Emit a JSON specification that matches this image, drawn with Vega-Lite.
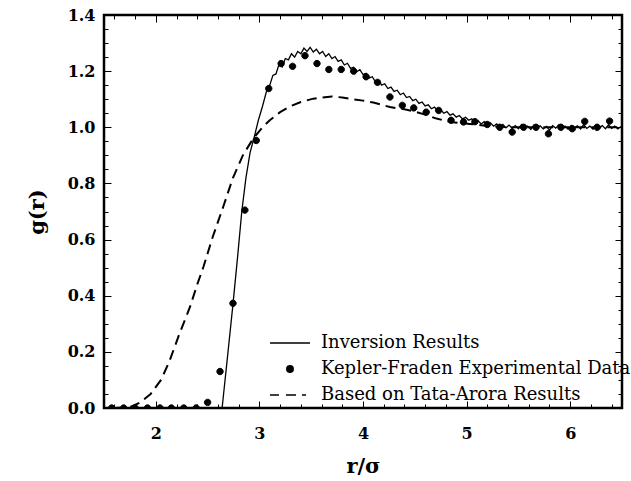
{
  "$schema": "https://vega.github.io/schema/vega-lite/v6.json",
  "width": 518,
  "height": 393,
  "autosize": {"type": "none"},
  "padding": {"left": 104, "top": 15, "right": 9, "bottom": 73},
  "background": "white",
  "datasets": {
    "inv": [
      {"r": 2.64, "g": 0}, {"r": 2.70, "g": 0.21}, {"r": 2.745, "g": 0.37}, {"r": 2.79, "g": 0.54}, {"r": 2.83, "g": 0.70},
      {"r": 2.87, "g": 0.82}, {"r": 2.91, "g": 0.91}, {"r": 2.95, "g": 0.965}, {"r": 2.99, "g": 1.025}, {"r": 3.03, "g": 1.075},
      {"r": 3.07, "g": 1.13}, {"r": 3.10, "g": 1.15}, {"r": 3.13, "g": 1.185}, {"r": 3.16, "g": 1.19}, {"r": 3.19, "g": 1.225},
      {"r": 3.22, "g": 1.215}, {"r": 3.25, "g": 1.245}, {"r": 3.28, "g": 1.24}, {"r": 3.31, "g": 1.262}, {"r": 3.34, "g": 1.25},
      {"r": 3.37, "g": 1.27}, {"r": 3.40, "g": 1.262}, {"r": 3.43, "g": 1.282}, {"r": 3.46, "g": 1.27}, {"r": 3.49, "g": 1.285},
      {"r": 3.52, "g": 1.268}, {"r": 3.55, "g": 1.278}, {"r": 3.58, "g": 1.262}, {"r": 3.61, "g": 1.27}, {"r": 3.64, "g": 1.252},
      {"r": 3.67, "g": 1.262}, {"r": 3.70, "g": 1.245}, {"r": 3.73, "g": 1.252}, {"r": 3.76, "g": 1.235}, {"r": 3.79, "g": 1.24},
      {"r": 3.82, "g": 1.222}, {"r": 3.85, "g": 1.228}, {"r": 3.88, "g": 1.21}, {"r": 3.91, "g": 1.214}, {"r": 3.94, "g": 1.198},
      {"r": 3.97, "g": 1.205}, {"r": 4.00, "g": 1.188}, {"r": 4.03, "g": 1.192}, {"r": 4.06, "g": 1.176}, {"r": 4.09, "g": 1.18},
      {"r": 4.12, "g": 1.162}, {"r": 4.15, "g": 1.168}, {"r": 4.18, "g": 1.15}, {"r": 4.21, "g": 1.155}, {"r": 4.24, "g": 1.138},
      {"r": 4.27, "g": 1.143}, {"r": 4.30, "g": 1.128}, {"r": 4.33, "g": 1.132}, {"r": 4.36, "g": 1.116}, {"r": 4.39, "g": 1.122},
      {"r": 4.42, "g": 1.106}, {"r": 4.45, "g": 1.11}, {"r": 4.48, "g": 1.095}, {"r": 4.51, "g": 1.1}, {"r": 4.54, "g": 1.085},
      {"r": 4.57, "g": 1.09}, {"r": 4.60, "g": 1.076}, {"r": 4.63, "g": 1.08}, {"r": 4.66, "g": 1.066}, {"r": 4.69, "g": 1.072},
      {"r": 4.72, "g": 1.058}, {"r": 4.75, "g": 1.062}, {"r": 4.78, "g": 1.05}, {"r": 4.81, "g": 1.056}, {"r": 4.84, "g": 1.043},
      {"r": 4.87, "g": 1.048}, {"r": 4.90, "g": 1.036}, {"r": 4.93, "g": 1.042}, {"r": 4.96, "g": 1.03}, {"r": 4.99, "g": 1.036},
      {"r": 5.02, "g": 1.025}, {"r": 5.05, "g": 1.03}, {"r": 5.08, "g": 1.018}, {"r": 5.11, "g": 1.024}, {"r": 5.14, "g": 1.012},
      {"r": 5.17, "g": 1.02}, {"r": 5.20, "g": 1.008}, {"r": 5.23, "g": 1.016}, {"r": 5.26, "g": 1.004}, {"r": 5.29, "g": 1.012},
      {"r": 5.32, "g": 1.0}, {"r": 5.35, "g": 1.01}, {"r": 5.38, "g": 0.998}, {"r": 5.41, "g": 1.008}, {"r": 5.44, "g": 0.996},
      {"r": 5.47, "g": 1.006}, {"r": 5.50, "g": 0.995}, {"r": 5.53, "g": 1.01}, {"r": 5.56, "g": 0.997}, {"r": 5.59, "g": 1.004},
      {"r": 5.62, "g": 0.992}, {"r": 5.65, "g": 1.008}, {"r": 5.68, "g": 0.998}, {"r": 5.71, "g": 1.005}, {"r": 5.74, "g": 0.994},
      {"r": 5.77, "g": 1.003}, {"r": 5.80, "g": 0.99}, {"r": 5.83, "g": 1.006}, {"r": 5.86, "g": 0.997}, {"r": 5.89, "g": 1.009},
      {"r": 5.92, "g": 0.995}, {"r": 5.95, "g": 1.004}, {"r": 5.98, "g": 0.993}, {"r": 6.01, "g": 1.007}, {"r": 6.04, "g": 0.998},
      {"r": 6.07, "g": 1.005}, {"r": 6.10, "g": 0.994}, {"r": 6.13, "g": 1.01}, {"r": 6.16, "g": 0.996}, {"r": 6.19, "g": 1.004},
      {"r": 6.22, "g": 0.993}, {"r": 6.25, "g": 1.008}, {"r": 6.28, "g": 0.997}, {"r": 6.31, "g": 1.006}, {"r": 6.34, "g": 0.995},
      {"r": 6.37, "g": 1.009}, {"r": 6.40, "g": 0.996}, {"r": 6.43, "g": 1.004}, {"r": 6.46, "g": 0.994}, {"r": 6.49, "g": 1.002},
      {"r": 6.50, "g": 0.998}
    ],
    "tata": [
      {"r": 1.60, "g": 0}, {"r": 1.75, "g": 0.003}, {"r": 1.85, "g": 0.02}, {"r": 1.95, "g": 0.05}, {"r": 2.05, "g": 0.10},
      {"r": 2.13, "g": 0.165}, {"r": 2.23, "g": 0.266}, {"r": 2.33, "g": 0.36}, {"r": 2.40, "g": 0.44}, {"r": 2.46, "g": 0.503},
      {"r": 2.55, "g": 0.61}, {"r": 2.65, "g": 0.716}, {"r": 2.745, "g": 0.82}, {"r": 2.84, "g": 0.90}, {"r": 2.94, "g": 0.96},
      {"r": 3.03, "g": 1.0}, {"r": 3.10, "g": 1.025}, {"r": 3.20, "g": 1.054}, {"r": 3.30, "g": 1.075}, {"r": 3.40, "g": 1.09},
      {"r": 3.52, "g": 1.102}, {"r": 3.60, "g": 1.106}, {"r": 3.70, "g": 1.11}, {"r": 3.80, "g": 1.106}, {"r": 3.90, "g": 1.10},
      {"r": 4.00, "g": 1.095}, {"r": 4.10, "g": 1.088}, {"r": 4.26, "g": 1.072}, {"r": 4.40, "g": 1.064}, {"r": 4.48, "g": 1.058},
      {"r": 4.60, "g": 1.045}, {"r": 4.71, "g": 1.031}, {"r": 4.84, "g": 1.019}, {"r": 5.03, "g": 1.012}, {"r": 5.20, "g": 1.005},
      {"r": 5.40, "g": 1.0}, {"r": 5.60, "g": 1.0}, {"r": 5.80, "g": 1.0}, {"r": 6.00, "g": 1.0}, {"r": 6.20, "g": 1.0},
      {"r": 6.50, "g": 1.0}
    ],
    "kep": [
      {"r": 1.574, "g": 0.0}, {"r": 1.69, "g": 0.0}, {"r": 1.80, "g": 0.0}, {"r": 1.92, "g": 0.0}, {"r": 2.04, "g": 0.0},
      {"r": 2.15, "g": 0.0}, {"r": 2.27, "g": 0.0}, {"r": 2.39, "g": 0.0}, {"r": 2.50, "g": 0.02}, {"r": 2.62, "g": 0.13},
      {"r": 2.745, "g": 0.373}, {"r": 2.86, "g": 0.705}, {"r": 2.97, "g": 0.953}, {"r": 3.09, "g": 1.138}, {"r": 3.21, "g": 1.227},
      {"r": 3.32, "g": 1.217}, {"r": 3.44, "g": 1.255}, {"r": 3.556, "g": 1.227}, {"r": 3.67, "g": 1.206}, {"r": 3.79, "g": 1.206},
      {"r": 3.91, "g": 1.2}, {"r": 4.03, "g": 1.18}, {"r": 4.14, "g": 1.16}, {"r": 4.26, "g": 1.108}, {"r": 4.38, "g": 1.078},
      {"r": 4.49, "g": 1.069}, {"r": 4.61, "g": 1.054}, {"r": 4.73, "g": 1.06}, {"r": 4.85, "g": 1.025}, {"r": 4.97, "g": 1.019},
      {"r": 5.08, "g": 1.02}, {"r": 5.20, "g": 1.01}, {"r": 5.32, "g": 1.0}, {"r": 5.44, "g": 0.983}, {"r": 5.55, "g": 1.0},
      {"r": 5.67, "g": 1.0}, {"r": 5.79, "g": 0.977}, {"r": 5.91, "g": 1.0}, {"r": 6.02, "g": 0.995}, {"r": 6.14, "g": 1.021},
      {"r": 6.26, "g": 1.0}, {"r": 6.38, "g": 1.022}
    ]
  },
  "resolve": {"axis": {"x": "independent", "y": "independent"}},
  "layer": [
    {
      "data": {"name": "inv"},
      "mark": {"type": "line", "color": "black", "strokeWidth": 1.3, "clip": true},
      "encoding": {
        "x": {
          "field": "r", "type": "quantitative",
          "scale": {"domain": [1.5, 6.5], "nice": false, "zero": false},
          "axis": {"orient": "bottom", "title": "r/σ", "values": [2, 3, 4, 5, 6], "format": "d",
                   "offset": -7, "tickSize": 7, "labelPadding": 17, "titlePadding": 14}
        },
        "y": {
          "field": "g", "type": "quantitative",
          "scale": {"domain": [0, 1.4], "nice": false, "zero": false},
          "axis": {"orient": "left", "title": "g(r)", "values": [0, 0.2, 0.4, 0.6, 0.8, 1, 1.2, 1.4], "format": ".1f",
                   "offset": -7, "tickSize": 7, "labelPadding": 9, "titlePadding": 20}
        }
      }
    },
    {
      "data": {"name": "tata"},
      "mark": {"type": "line", "color": "black", "strokeWidth": 2, "strokeDash": [10, 6], "clip": true},
      "encoding": {
        "x": {"field": "r", "type": "quantitative",
              "axis": {"orient": "top", "title": null, "labels": false, "values": [2, 3, 4, 5, 6], "offset": -7, "tickSize": 7}},
        "y": {"field": "g", "type": "quantitative",
              "axis": {"orient": "right", "title": null, "labels": false, "values": [0, 0.2, 0.4, 0.6, 0.8, 1, 1.2, 1.4], "offset": -7, "tickSize": 7}}
      }
    },
    {
      "data": {"name": "kep"},
      "mark": {"type": "point", "filled": true, "color": "black", "opacity": 1, "size": 16, "stroke": "black", "strokeWidth": 1, "clip": true},
      "encoding": {
        "x": {"field": "r", "type": "quantitative",
              "axis": {"orient": "bottom", "title": null, "labels": false, "offset": -4, "tickSize": 4,
                       "values": [1.6,1.8,2.2,2.4,2.6,2.8,3.2,3.4,3.6,3.8,4.2,4.4,4.6,4.8,5.2,5.4,5.6,5.8,6.2,6.4]}},
        "y": {"field": "g", "type": "quantitative",
              "axis": {"orient": "left", "title": null, "labels": false, "offset": -4, "tickSize": 4,
                       "values": [0.05,0.1,0.15,0.25,0.3,0.35,0.45,0.5,0.55,0.65,0.7,0.75,0.85,0.9,0.95,1.05,1.1,1.15,1.25,1.3,1.35]}},
        "shape": {
          "datum": "Kepler-Fraden Experimental Data",
          "type": "nominal",
          "scale": {
            "domain": ["Inversion Results", "Kepler-Fraden Experimental Data", "Based on Tata-Arora Results"],
            "range": ["M-10,0H10", "M-1.6,0A1.6,1.6,0,1,1,1.6,0A1.6,1.6,0,1,1,-1.6,0Z", "M-10,0H-5.5M-2,0H3M6,0H8"]
          },
          "legend": {
            "orient": "none", "legendX": 177, "legendY": 319, "title": null,
            "padding": 0, "rowPadding": 8, "labelOffset": 22,
            "symbolSize": 16,
            "labelFont": "DejaVu Serif", "labelFontSize": 18, "labelColor": "black", "labelLimit": 400,
            "encode": {"symbols": {"update": {"fill": {"value": "black"}, "stroke": {"value": "black"}, "strokeWidth": {"value": 1.3}, "opacity": {"value": 1}}}}
          }
        }
      }
    },
    {
      "data": {"name": "kep"},
      "mark": {"type": "point", "opacity": 0, "size": 1},
      "encoding": {
        "x": {"field": "r", "type": "quantitative",
              "axis": {"orient": "top", "title": null, "labels": false, "offset": -4, "tickSize": 4,
                       "values": [1.6,1.8,2.2,2.4,2.6,2.8,3.2,3.4,3.6,3.8,4.2,4.4,4.6,4.8,5.2,5.4,5.6,5.8,6.2,6.4]}},
        "y": {"field": "g", "type": "quantitative",
              "axis": {"orient": "right", "title": null, "labels": false, "offset": -4, "tickSize": 4,
                       "values": [0.05,0.1,0.15,0.25,0.3,0.35,0.45,0.5,0.55,0.65,0.7,0.75,0.85,0.9,0.95,1.05,1.1,1.15,1.25,1.3,1.35]}}
      }
    }
  ],
  "config": {
    "view": {"stroke": "black", "strokeWidth": 2.5, "fill": null},
    "axis": {
      "domain": false, "grid": false, "ticks": true, "zindex": 1,
      "tickColor": "black", "tickWidth": 1, "tickOpacity": 1,
      "labelFont": "DejaVu Serif", "labelFontWeight": "bold", "labelFontSize": 16, "labelColor": "black",
      "titleFont": "DejaVu Serif", "titleFontWeight": "bold", "titleFontSize": 21, "titleColor": "black"
    }
  }
}
